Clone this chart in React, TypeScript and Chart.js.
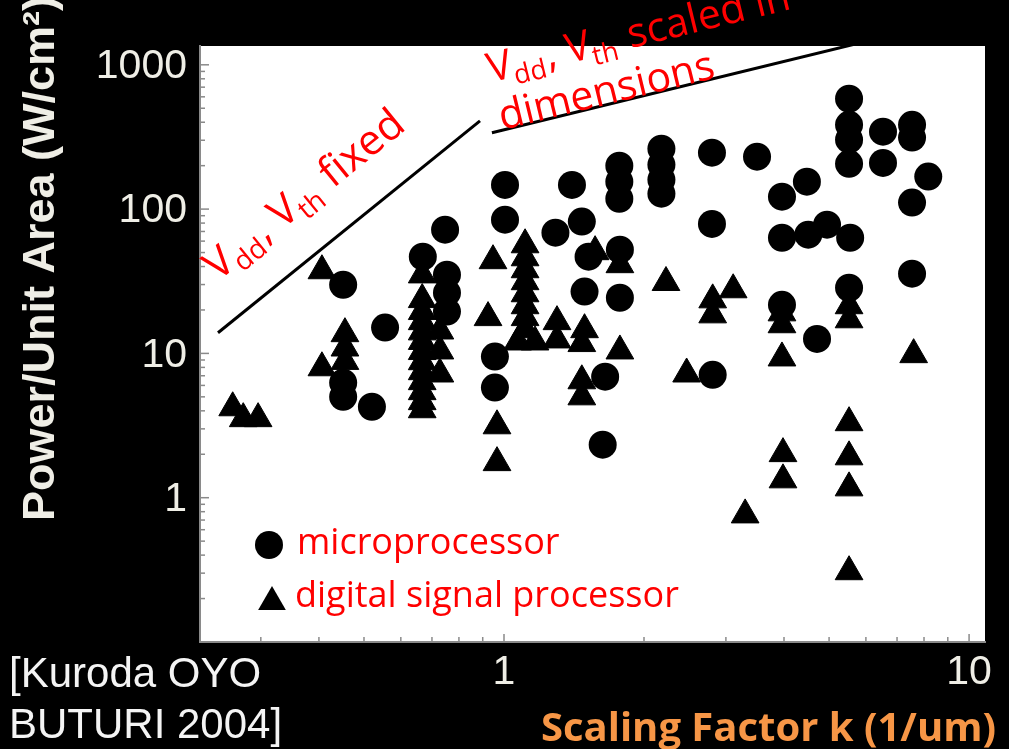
import React, { useEffect, useRef } from 'react';
import { Chart, registerables } from 'chart.js';

Chart.register(...registerables);

// ---- data (x = scaling factor k [1/um], y = power per unit area [W/cm2]) ----
const microprocessorPoints: [number, number][] = [
  [0.451, 29.9], [0.555, 15.1], [0.451, 6.26], [0.451, 5.0], [0.52, 4.27],
  [0.747, 72], [0.669, 46.8], [0.754, 35.1], [0.754, 26.3], [0.754, 19.5],
  [0.956, 9.5], [0.956, 5.8], [1.005, 147], [1.005, 84.5],
  [1.29, 68.6], [1.40, 147], [1.47, 82], [1.52, 46.8], [1.775, 52.3],
  [1.49, 26.8], [1.775, 24.3], [1.65, 6.9], [1.63, 2.33],
  [1.77, 200], [1.77, 155], [1.77, 118],
  [2.18, 262], [2.18, 203], [2.18, 160], [2.18, 128],
  [2.80, 246], [2.80, 79], [2.81, 7.1], [3.50, 231],
  [3.96, 122], [4.48, 155], [3.96, 63.3], [4.51, 66.5], [4.95, 78], [5.55, 63.3],
  [3.96, 21.7], [4.71, 12.6],
  [5.52, 582], [5.52, 384], [5.52, 303], [5.52, 206], [5.52, 28.5],
  [6.53, 344], [6.53, 209], [7.54, 384], [7.54, 313], [7.54, 111], [8.17, 168], [7.54, 35.7],
];

const dspPoints: [number, number][] = [
  [0.261, 4.2], [0.275, 3.53], [0.296, 3.53],
  [0.406, 37.4], [0.455, 13.7], [0.455, 10.9], [0.455, 8.8], [0.406, 7.95],
  [0.667, 35], [0.667, 23.6], [0.667, 19.5], [0.667, 16.6], [0.667, 14.1], [0.667, 12.1],
  [0.667, 10.3], [0.667, 8.76], [0.667, 7.47], [0.667, 6.37], [0.667, 5.43], [0.667, 4.63], [0.667, 4.07],
  [0.728, 14.3], [0.728, 10.4], [0.728, 7.2],
  [0.947, 43.9], [0.924, 17.7], [0.966, 3.15], [0.966, 1.75],
  [1.11, 56.6], [1.11, 46], [1.11, 38], [1.11, 31.4], [1.11, 25.9], [1.11, 21.4], [1.11, 17.7], [1.11, 14.6],
  [1.07, 12.0], [1.166, 12.0],
  [1.30, 16.6], [1.30, 12.4], [1.57, 50.7], [1.775, 41.2],
  [1.49, 14.6], [1.47, 11.7], [1.775, 10.4], [1.47, 6.46], [1.47, 5.0],
  [2.23, 31], [3.11, 27.6], [2.81, 23.5], [2.81, 18.5], [2.47, 7.2],
  [3.96, 19.1], [3.96, 15.8], [3.96, 9.3], [3.98, 2.02], [3.98, 1.33], [3.30, 0.76],
  [5.52, 21.4], [5.52, 17.1], [5.52, 3.31], [5.52, 1.92], [5.52, 1.17], [5.52, 0.307],
  [7.6, 9.8],
];

const fixedTrendX = [0.2427, 0.888];
const fixedTrendY = [13.9, 409];
const scaledTrendX = [0.942, 6.0];
const scaledTrendY = [338, 1452];

const xLabelValues = [1, 10];
const yLabelValues = [1, 10, 100, 1000];

const X_MIN = 0.222;
const X_MAX = 10.82;
const Y_MIN = 0.1;
const Y_MAX = 1350;

// annotation anchors (data units)
const fixedLabelAnchor: [number, number] = [0.2427, 31.4];
const scaledLabelAnchor: [number, number] = [0.936, 755];

type Seg = { t: string; sub?: boolean };
const fixedLabel: Seg[][] = [[{ t: 'V' }, { t: 'dd', sub: true }, { t: ', ' }, { t: 'V' }, { t: 'th', sub: true }, { t: ' fixed' }]];
const scaledLabel: Seg[][] = [
  [{ t: 'V' }, { t: 'dd', sub: true }, { t: ', ' }, { t: 'V' }, { t: 'th', sub: true }, { t: ' scaled in' }],
  [{ t: 'dimensions' }],
];

const legendItems = ['microprocessor', 'digital signal processor'];

const RED = '#ff0000';
const AXIS = '#8a8a8a';
const TICKTXT = '#efeee6';
const ORANGE = '#f79646';
const ANN_FONT = '"Open Sans", "DejaVu Sans", sans-serif';
const ARIAL = '"Liberation Sans", Arial, sans-serif';

function drawRich(ctx: CanvasRenderingContext2D, lines: Seg[][], x: number, y: number, angle: number, size: number, lineH: number) {
  ctx.save();
  ctx.translate(x, y);
  ctx.rotate(angle);
  ctx.fillStyle = RED;
  ctx.textAlign = 'left';
  ctx.textBaseline = 'alphabetic';
  lines.forEach((segs, li) => {
    let cx = 0;
    for (const s of segs) {
      const fs = s.sub ? size * 0.66 : size;
      ctx.font = `${fs}px ${ANN_FONT}`;
      ctx.fillText(s.t, cx, li * lineH + (s.sub ? size * 0.2 : 0));
      cx += ctx.measureText(s.t).width + (s.sub ? 2 : 0);
    }
  });
  ctx.restore();
}

function isPow10(v: number) {
  const l = Math.log10(v);
  return Math.abs(l - Math.round(l)) < 1e-9;
}
function significand(v: number) {
  const e = Math.floor(Math.log10(v) + 1e-9);
  return v / Math.pow(10, e);
}

const bgPlugin = {
  id: 'bgPlot',
  beforeDraw(chart: any) {
    const { ctx, chartArea: a, width, height } = chart;
    ctx.save();
    ctx.fillStyle = '#000';
    ctx.fillRect(0, 0, width, height);
    ctx.fillStyle = '#fff';
    ctx.fillRect(a.left, a.top, a.right - a.left, a.bottom - a.top);
    ctx.restore();
  },
};

const innerTicksPlugin = {
  id: 'innerTicks',
  beforeDatasetsDraw(chart: any) {
    const { ctx, chartArea: a } = chart;
    const xs = chart.scales.x;
    const ys = chart.scales.y;
    ctx.save();
    ctx.strokeStyle = AXIS;
    ctx.lineWidth = 1.5;
    for (const t of ys.ticks) {
      const s = significand(t.value);
      if (Math.abs(s - Math.round(s)) > 1e-6) continue;
      const p = ys.getPixelForValue(t.value);
      if (p < a.top + 1 || p > a.bottom - 2) continue;
      const len = Math.round(s) === 1 ? 9 : 5;
      ctx.beginPath();
      ctx.moveTo(a.left, p);
      ctx.lineTo(a.left + len, p);
      ctx.stroke();
    }
    for (const t of xs.ticks) {
      const s = significand(t.value);
      if (Math.abs(s - Math.round(s)) > 1e-6) continue;
      const p = xs.getPixelForValue(t.value);
      if (p < a.left + 2 || p > a.right - 1) continue;
      const len = Math.round(s) === 1 ? 8 : 5;
      ctx.beginPath();
      ctx.moveTo(p, a.bottom);
      ctx.lineTo(p, a.bottom - len);
      ctx.stroke();
    }
    ctx.restore();
  },
};

const textPlugin = {
  id: 'texts',
  afterDraw(chart: any) {
    const { ctx, chartArea: a } = chart;
    const xs = chart.scales.x;
    const ys = chart.scales.y;
    const px = (vx: number, vy: number) => [xs.getPixelForValue(vx), ys.getPixelForValue(vy)];

    // annotation: fixed
    const [f0x, f0y] = px(fixedTrendX[0], fixedTrendY[0]);
    const [f1x, f1y] = px(fixedTrendX[1], fixedTrendY[1]);
    const angFixed = Math.atan2(f1y - f0y, f1x - f0x);
    const [ofx, ofy] = px(fixedLabelAnchor[0], fixedLabelAnchor[1]);
    drawRich(ctx, fixedLabel, ofx, ofy, angFixed, 42, 49);

    // annotation: scaled
    const [s0x, s0y] = px(scaledTrendX[0], scaledTrendY[0]);
    const [s1x, s1y] = px(scaledTrendX[1], scaledTrendY[1]);
    const angScaled = Math.atan2(s1y - s0y, s1x - s0x);
    const [osx, osy] = px(scaledLabelAnchor[0], scaledLabelAnchor[1]);
    drawRich(ctx, scaledLabel, osx, osy, angScaled, 41, 49);

    // legend
    ctx.save();
    ctx.fillStyle = '#000';
    const cx = a.left + 69;
    const cy = a.top + 499;
    ctx.beginPath();
    ctx.arc(cx, cy, 14, 0, Math.PI * 2);
    ctx.fill();
    const tx = a.left + 72;
    const ty = a.top + 556;
    const r = 16;
    ctx.beginPath();
    ctx.moveTo(tx, ty - r);
    ctx.lineTo(tx + 0.866 * r, ty + 0.5 * r);
    ctx.lineTo(tx - 0.866 * r, ty + 0.5 * r);
    ctx.closePath();
    ctx.fill();
    ctx.fillStyle = RED;
    ctx.font = `36px ${ANN_FONT}`;
    ctx.textAlign = 'left';
    ctx.textBaseline = 'alphabetic';
    ctx.fillText(legendItems[0], a.left + 97, a.top + 508);
    ctx.fillText(legendItems[1], a.left + 95, a.top + 561);
    ctx.restore();

    // y axis title
    ctx.save();
    ctx.translate(54, 521);
    ctx.rotate(-Math.PI / 2);
    ctx.fillStyle = TICKTXT;
    ctx.font = `bold 45px ${ARIAL}`;
    ctx.textAlign = 'left';
    ctx.textBaseline = 'alphabetic';
    ctx.fillText('Power/Unit Area (W/cm²)', 0, 0);
    ctx.restore();

    // x axis title
    ctx.save();
    ctx.fillStyle = ORANGE;
    ctx.font = `bold 40px ${ANN_FONT}`;
    ctx.textAlign = 'right';
    ctx.textBaseline = 'alphabetic';
    ctx.fillText('Scaling Factor k (1/um)', 996, 741);
    ctx.restore();

    // citation
    ctx.save();
    ctx.fillStyle = '#f4f4f4';
    ctx.font = `42px ${ARIAL}`;
    ctx.textAlign = 'left';
    ctx.textBaseline = 'alphabetic';
    ctx.fillText('[Kuroda OYO', 9, 687);
    ctx.fillText('BUTURI 2004]', 9, 738);
    ctx.restore();
  },
};

export default function App() {
  const ref = useRef<HTMLCanvasElement>(null);
  useEffect(() => {
    document.body.style.margin = '0';
    document.body.style.background = '#000';
    const canvas = ref.current;
    if (!canvas) return;
    const chart = new Chart(canvas, {
      type: 'scatter',
      data: {
        datasets: [
          {
            label: 'fixed',
            data: fixedTrendX.map((v, i) => ({ x: v, y: fixedTrendY[i] })),
            showLine: true,
            borderColor: '#000',
            borderWidth: 3,
            pointRadius: 0,
          },
          {
            label: 'scaled',
            data: scaledTrendX.map((v, i) => ({ x: v, y: scaledTrendY[i] })),
            showLine: true,
            borderColor: '#000',
            borderWidth: 3,
            pointRadius: 0,
          },
          {
            label: legendItems[0],
            data: microprocessorPoints.map(([x, y]) => ({ x, y })),
            pointStyle: 'circle',
            pointRadius: 14,
            backgroundColor: '#000',
            borderColor: '#000',
            borderWidth: 0,
          },
          {
            label: legendItems[1],
            data: dspPoints.map(([x, y]) => ({ x, y })),
            pointStyle: 'triangle',
            pointRadius: 16,
            backgroundColor: '#000',
            borderColor: '#000',
            borderWidth: 1,
          },
        ],
      },
      options: {
        responsive: false,
        animation: false,
        devicePixelRatio: 1,
        events: [],
        layout: { padding: { left: 0, top: 46, right: 24, bottom: 47 } },
        plugins: { legend: { display: false }, tooltip: { enabled: false } },
        scales: {
          x: {
            type: 'logarithmic',
            position: 'bottom',
            min: X_MIN,
            max: X_MAX,
            grid: { display: true, drawOnChartArea: false, drawTicks: false },
            border: { display: true, color: AXIS, width: 2 },
            ticks: {
              autoSkip: false,
              maxRotation: 0,
              minRotation: 0,
              padding: 6,
              color: TICKTXT,
              font: { family: ARIAL, size: 41 },
              callback: (v: any) => {
                const n = Number(v);
                return xLabelValues.some((t) => Math.abs(t - n) < 1e-9) ? String(n) : '';
              },
            },
            afterFit: (s: any) => { s.height = 60; },
          },
          y: {
            type: 'logarithmic',
            position: 'left',
            min: Y_MIN,
            max: Y_MAX,
            grid: { display: true, drawOnChartArea: false, drawTicks: false },
            border: { display: true, color: AXIS, width: 2 },
            ticks: {
              autoSkip: false,
              padding: 13,
              labelOffset: 2,
              color: TICKTXT,
              font: { family: ARIAL, size: 41 },
              callback: (v: any) => {
                const n = Number(v);
                return yLabelValues.some((t) => Math.abs(t - n) < 1e-9) && isPow10(n) ? String(n) : '';
              },
            },
            afterFit: (s: any) => { s.width = 200; },
          },
        },
      },
      plugins: [bgPlugin, innerTicksPlugin, textPlugin],
    } as any);
    return () => chart.destroy();
  }, []);
  return (
    <div style={{ width: 1009, height: 749, background: '#000' }}>
      <canvas ref={ref} width={1009} height={749} style={{ display: 'block' }} />
    </div>
  );
}
